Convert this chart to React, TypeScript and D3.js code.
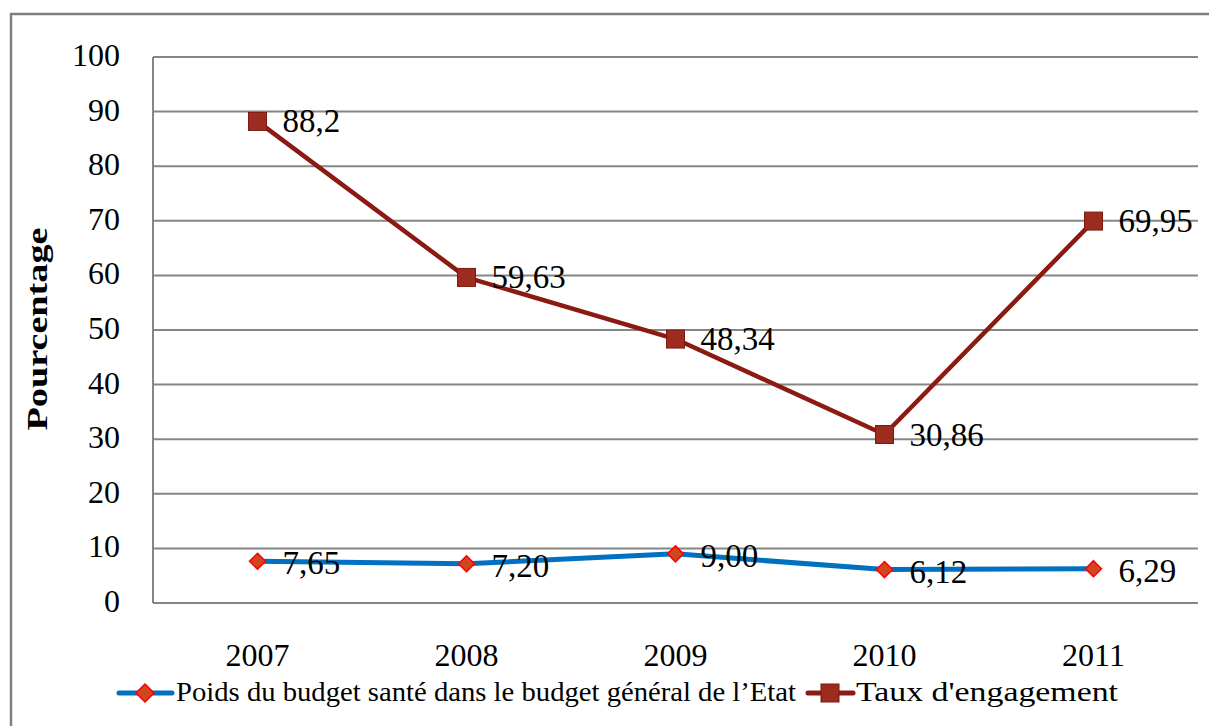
import React from 'react';
import * as d3 from 'd3';

const years = ['2007', '2008', '2009', '2010', '2011'];
const poids = [7.65, 7.2, 9.0, 6.12, 6.29];
const poidsLabels = ['7,65', '7,20', '9,00', '6,12', '6,29'];
const taux = [88.2, 59.63, 48.34, 30.86, 69.95];
const tauxLabels = ['88,2', '59,63', '48,34', '30,86', '69,95'];
const yTicks = [0, 10, 20, 30, 40, 50, 60, 70, 80, 90, 100];

const width = 1209;
const height = 726;
const left = 153;
const right = 1198;
const top = 57;
const bottom = 603;
const font = '"Liberation Serif", "DejaVu Serif", serif';

const App = () => {
  const x = d3.scalePoint<string>().domain(years).range([left, right]).padding(0.5);
  const y = d3.scaleLinear().domain([0, 100]).range([bottom, top]);

  const line = d3.line<number>()
    .x((d, i) => x(years[i]) as number)
    .y(d => y(d));

  const diamond = (cx: number, cy: number, r: number) =>
    `M${cx},${cy - r}L${cx + r},${cy}L${cx},${cy + r}L${cx - r},${cy}Z`;

  return (
    <svg width={width} height={height} style={{ position: 'absolute', left: 0, top: 0, background: '#fff', fontFamily: font }}>
      <rect x={11} y={14} width={width + 20} height={height + 20} fill="#fff" stroke="#7f7f7f" strokeWidth={2.5} />

      {yTicks.map(t => (
        <g key={t}>
          {t > 0 && (
            <line x1={left} x2={right} y1={y(t)} y2={y(t)} stroke="#868686" strokeWidth={2} />
          )}
          <text x={120} y={y(t) - 2} textAnchor="end" dominantBaseline="central" style={{ fontFamily: font }} fontSize={32} fill="#000">
            {t}
          </text>
        </g>
      ))}
      <line x1={left} x2={left} y1={top} y2={bottom} stroke="#868686" strokeWidth={2} />
      <line x1={left} x2={right} y1={bottom} y2={bottom} stroke="#868686" strokeWidth={2} />

      <text
        transform={`translate(47,329) rotate(-90)`}
        textAnchor="middle"
        style={{ fontFamily: font }}
        fontSize={29}
        fontWeight="bold"
        textLength={203}
        lengthAdjust="spacingAndGlyphs"
      >
        Pourcentage
      </text>

      {years.map(yr => (
        <text key={yr} x={x(yr)} y={666} textAnchor="middle" style={{ fontFamily: font }} fontSize={32}>
          {yr}
        </text>
      ))}

      {/* Poids du budget */}
      <path d={line(poids) || ''} fill="none" stroke="#0070C0" strokeWidth={5} strokeLinejoin="round" />
      {poids.map((v, i) => (
        <g key={'p' + i}>
          <path d={diamond(x(years[i]) as number, y(v), 8)} fill="#D0461F" stroke="#FF0000" strokeWidth={1.5} />
          <text x={(x(years[i]) as number) + 25} y={y(v) + 2} dominantBaseline="central" style={{ fontFamily: font }} fontSize={33}>
            {poidsLabels[i]}
          </text>
        </g>
      ))}

      {/* Taux d'engagement */}
      <path d={line(taux) || ''} fill="none" stroke="#8B1A12" strokeWidth={4.5} strokeLinejoin="round" />
      {taux.map((v, i) => (
        <g key={'t' + i}>
          <rect x={(x(years[i]) as number) - 9} y={y(v) - 9} width={18} height={18} fill="#9E2B20" stroke="#7B1A12" strokeWidth={1} />
          <text x={(x(years[i]) as number) + 25} y={y(v)} dominantBaseline="central" style={{ fontFamily: font }} fontSize={33}>
            {tauxLabels[i]}
          </text>
        </g>
      ))}

      {/* legend */}
      <g>
        <line x1={119} x2={172} y1={693} y2={693} stroke="#0070C0" strokeWidth={5} strokeLinecap="round" />
        <path d={diamond(145, 693, 9)} fill="#D0461F" stroke="#FF0000" strokeWidth={1.5} />
        <text x={176} y={701} style={{ fontFamily: font }} fontSize={28} textLength={620} lengthAdjust="spacingAndGlyphs">
          Poids du budget santé dans le budget général de l’Etat
        </text>
        <line x1={808} x2={853} y1={693} y2={693} stroke="#8B1A12" strokeWidth={5} strokeLinecap="round" />
        <rect x={821} y={684} width={18} height={18} fill="#9E2B20" stroke="#7B1A12" strokeWidth={1} />
        <text x={856} y={701} style={{ fontFamily: font }} fontSize={28} textLength={262} lengthAdjust="spacingAndGlyphs">
          Taux d'engagement
        </text>
      </g>
    </svg>
  );
};

export default App;
